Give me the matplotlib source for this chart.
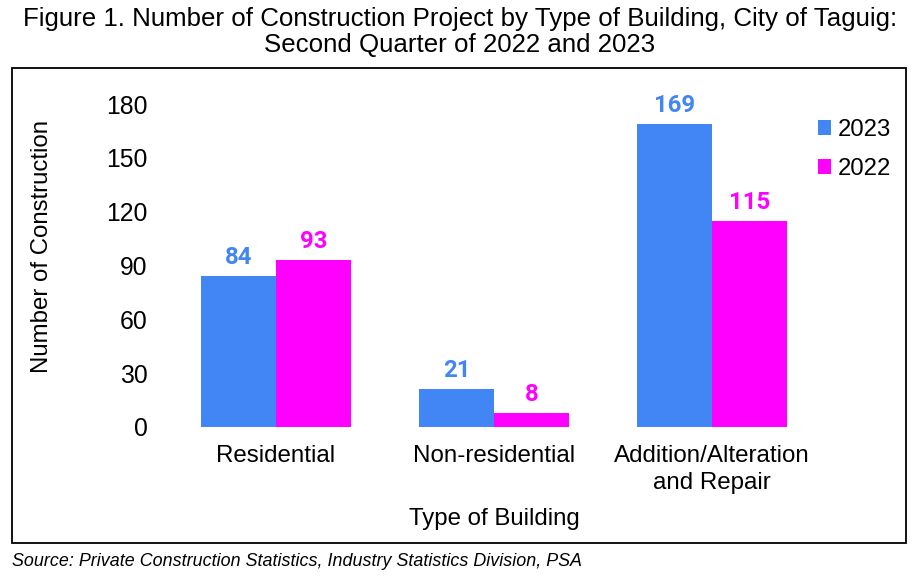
"""Grouped bar chart: construction projects by type of building, Taguig."""
import matplotlib
matplotlib.use("Agg")
import matplotlib.patches as mpatches
import matplotlib.pyplot as plt
import numpy as np

categories = ["Residential", "Non-residential", "Addition/Alteration\nand Repair"]
values_2023 = [84, 21, 169]
values_2022 = [93, 8, 115]
series_labels = ["2023", "2022"]
y_ticks = [0, 30, 60, 90, 120, 150, 180]

BLUE = "#4285F4"
MAGENTA = "#FF00FF"
FONT = ["Liberation Sans", "DejaVu Sans"]

plt.rcParams["font.family"] = FONT

fig = plt.figure(figsize=(9.2, 5.82), dpi=100)
fig.patch.set_facecolor("white")

# outer frame around the chart area
frame = mpatches.Rectangle((12 / 920, 1 - 543 / 582), 894 / 920, 475 / 582,
                           transform=fig.transFigure, fill=False,
                           edgecolor="black", linewidth=1.3)
fig.add_artist(frame)

fig.text(0.5, 1 - 32 / 582,
         "Figure 1. Number of Construction Project by Type of Building, City of Taguig:\n"
         "Second Quarter of 2022 and 2023",
         ha="center", va="center", fontsize=18.6, linespacing=1.12)

ax = fig.add_axes([167 / 920, 1 - 427 / 582, 654 / 920, 323 / 582])
x = np.arange(len(categories))
w = 0.344
b1 = ax.bar(x - w / 2, values_2023, w, color=BLUE, label=series_labels[0])
b2 = ax.bar(x + w / 2, values_2022, w, color=MAGENTA, label=series_labels[1])

for bars, vals, color in ((b1, values_2023, BLUE), (b2, values_2022, MAGENTA)):
    for bar, v in zip(bars, vals):
        ax.annotate(str(v), (bar.get_x() + bar.get_width() / 2, v),
                    xytext=(0, 5), textcoords="offset points",
                    ha="center", va="bottom", color=color,
                    fontsize=17.2, fontweight="bold", family=["Roboto", "DejaVu Sans"])

ax.set_xlim(-0.5, 2.5)
ax.set_ylim(0, 180)
ax.set_yticks(y_ticks)
ax.set_xticks(x)
ax.set_xticklabels(categories, fontsize=17.4, linespacing=1.28)
ax.tick_params(axis="y", length=0, pad=14, labelsize=17.8)
ax.tick_params(axis="x", length=0, pad=13)
for s in ax.spines.values():
    s.set_visible(False)

ax.set_ylabel("Number of Construction", fontsize=17.3, labelpad=38, y=0.56)
ax.set_xlabel("Type of Building", fontsize=17.3, labelpad=10)

ax.legend(loc="upper left", bbox_to_anchor=(0.962, 1.02), frameon=False,
          fontsize=17.2, handlelength=0.55, handleheight=0.55, handletextpad=0.3,
          labelspacing=0.7)

fig.text(12 / 920, 1 - 562 / 582,
         "Source: Private Construction Statistics, Industry Statistics Division, PSA",
         ha="left", va="center", fontsize=12.9, style="italic")

fig.savefig("out.png", dpi=100, facecolor="white")
